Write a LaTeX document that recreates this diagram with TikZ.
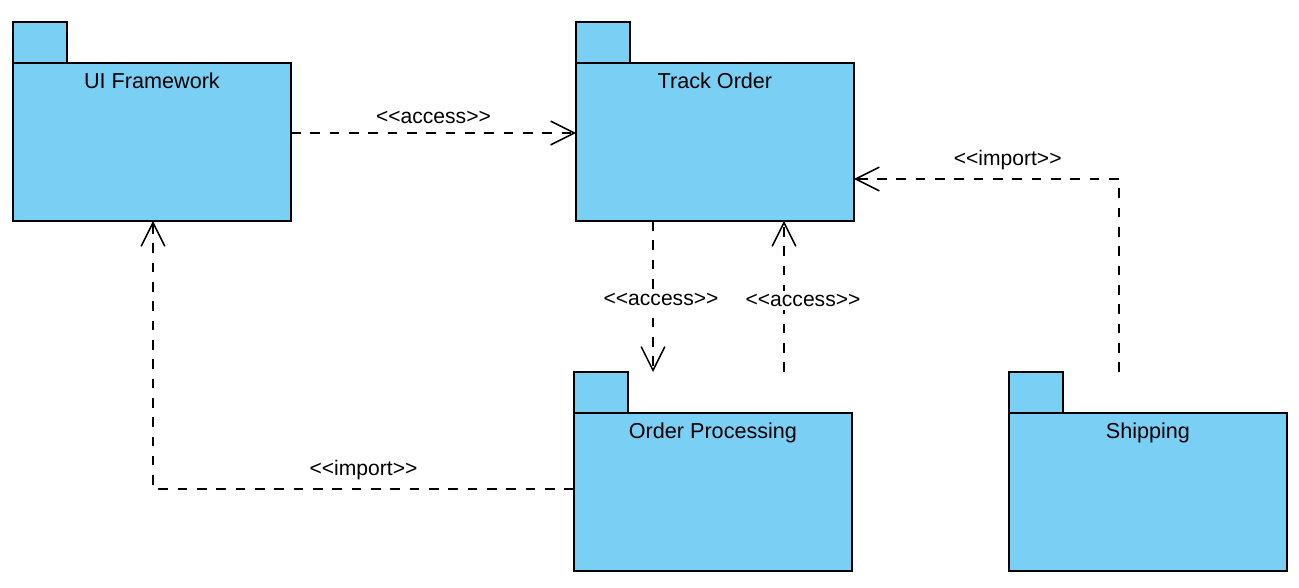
\documentclass[tikz,border=0pt]{standalone}
\usepackage{fontspec}
\setmainfont{Liberation Sans}[Ligatures=TeXOff]
\usetikzlibrary{arrows.meta,positioning}
\definecolor{PkgFill}{HTML}{7ACFF5}
\definecolor{Ink}{HTML}{000000}
\tikzset{
  pkgbody/.style={draw=Ink,fill=PkgFill,line width=1pt,anchor=north west,inner sep=0pt,outer sep=0pt,
    minimum width=5.56cm,text height=0.52cm,text depth=2.64cm,font=\fontsize{12.3}{14}\selectfont},
  pkgtab/.style={draw=Ink,fill=PkgFill,line width=1pt,anchor=south west,inner sep=0pt,outer sep=0pt,
    minimum width=1.08cm,minimum height=0.82cm},
  dep/.style={-{Straight Barb[length=13.5pt,width=13.5pt]},draw=Ink,line width=0.85pt,dash pattern=on 5.5pt off 5.5pt},
  lbl/.style={font=\fontsize{12}{14}\selectfont,text=Ink,inner sep=2pt}
}
\begin{document}
\begin{tikzpicture}[x=0.02cm,y=-0.02cm]
  \useasboundingbox (0,0) rectangle (1299,588);
  % packages
  \node[pkgbody] (ui) at (13,63) {UI Framework};
  \node[pkgtab] (ui-tab) at (ui.north west) {};
  \node[pkgbody] (track) at (576,63) {Track Order};
  \node[pkgtab] (track-tab) at (track.north west) {};
  \node[pkgbody] (proc) at (574,413) {Order Processing};
  \node[pkgtab] (proc-tab) at (proc.north west) {};
  \node[pkgbody] (ship) at (1009,413) {Shipping};
  \node[pkgtab] (ship-tab) at (ship.north west) {};
  % dependencies
  \draw[dep] (ui.east |- 0,133) -- node[lbl,above=3pt] {<<access>>} (track.west |- 0,133);
  \draw[dep] (track.south -| 653,0) -- node[lbl,fill=white,xshift=0.16cm,yshift=-0.06cm] {<<access>>} (proc-tab.north -| 653,0);
  \draw[dep] (proc-tab.north -| 784,0) -- node[lbl,fill=white,xshift=0.38cm,yshift=-0.08cm] {<<access>>} (track.south -| 784,0);
  \draw[dep] (ship-tab.north -| 1119,0) |- node[lbl,above=3pt,pos=0.71] {<<import>>} (track.east |- 0,179);
  \draw[dep] (proc.west |- 0,489) -| node[lbl,above=3pt,pos=0.25] {<<import>>} (ui.south -| 153,0);
\end{tikzpicture}
\end{document}
